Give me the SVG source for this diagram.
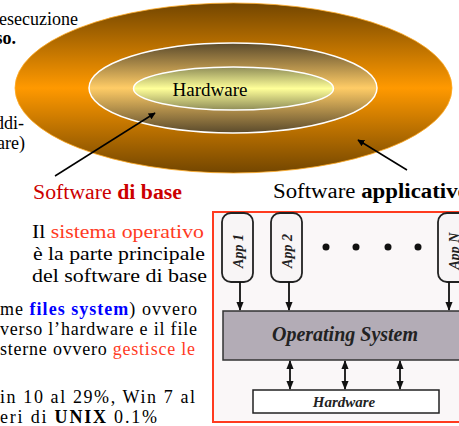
<svg xmlns="http://www.w3.org/2000/svg" width="459" height="426" viewBox="0 0 459 426" font-family="'Liberation Serif', 'Times New Roman', Times, serif">
<defs>
<linearGradient id="gOuter" x1="0" y1="0" x2="0" y2="1">
<stop offset="0" stop-color="#734600"/>
<stop offset="0.5" stop-color="#ff9900"/>
<stop offset="1" stop-color="#734600"/>
</linearGradient>
<linearGradient id="gMid" x1="0" y1="0" x2="0" y2="1">
<stop offset="0" stop-color="#5a4a2c"/>
<stop offset="0.5" stop-color="#ffcc66"/>
<stop offset="1" stop-color="#5a4a2c"/>
</linearGradient>
<linearGradient id="gIn" x1="0" y1="0" x2="0" y2="1">
<stop offset="0" stop-color="#8f8d58"/>
<stop offset="0.5" stop-color="#ffff99"/>
<stop offset="1" stop-color="#8f8d58"/>
</linearGradient>
<marker id="ah" viewBox="0 0 10 10" refX="9" refY="5" markerWidth="7" markerHeight="7" orient="auto-start-reverse" markerUnits="userSpaceOnUse">
<path d="M0,0 L10,5 L0,10 z" fill="#000"/>
</marker>
<marker id="ahs" viewBox="0 0 10 10" refX="9" refY="5" markerWidth="9" markerHeight="9" orient="auto-start-reverse" markerUnits="userSpaceOnUse">
<path d="M0,1 L10,5 L0,9 z" fill="#111"/>
</marker>
</defs>
<style>
.b{font-weight:bold;}
.red{fill:#ff3b1f;}
.dred{fill:#cc0000;}
.blue{fill:#0000ff;font-weight:bold;}
.app{fill:#f8f5f6;stroke:#222;stroke-width:1.8;}
.lbl{font-weight:bold;font-style:italic;fill:#222;}
.conn{stroke:#000;stroke-width:1.5;fill:none;}
.sconn{stroke:#111;stroke-width:1.8;fill:none;}
</style>
<rect width="459" height="426" fill="#fff"/>

<g id="text-top-left" font-family="Liberation Serif" font-size="18" fill="#000">
<text x="78" y="25" text-anchor="end">esecuzione</text>
<text x="16" y="44" text-anchor="end" class="b">so.</text>
<text x="24" y="129" text-anchor="end">ddi-</text>
<text x="25" y="149" text-anchor="end">are)</text>
</g>

<g id="ellipse-outer">
<ellipse cx="233.5" cy="88" rx="218.5" ry="85" fill="url(#gOuter)" stroke="#ffaa22" stroke-width="0.8"/>
</g>
<g id="ellipse-middle">
<ellipse cx="233" cy="88" rx="144" ry="45" fill="url(#gMid)" stroke="#fff" stroke-width="1.5"/>
</g>
<g id="ellipse-hardware" font-family="Liberation Serif">
<ellipse cx="233.5" cy="88.5" rx="100" ry="21.5" fill="url(#gIn)" stroke="#fff" stroke-width="1.5"/>
<text x="210" y="96" text-anchor="middle" font-size="19" fill="#000">Hardware</text>
</g>

<g id="label-software-base" font-family="Liberation Serif">
<text x="33" y="199" font-size="20" textLength="149" lengthAdjust="spacingAndGlyphs" class="dred">Software <tspan class="b">di base</tspan></text>
</g>
<g id="label-software-app" font-family="Liberation Serif">
<text x="273" y="198" font-size="20" textLength="196" lengthAdjust="spacingAndGlyphs">Software <tspan class="b">applicativo</tspan></text>
</g>

<g id="text-so" font-family="Liberation Serif" font-size="19">
<text x="32" y="238" textLength="172" lengthAdjust="spacingAndGlyphs">Il <tspan class="red">sistema operativo</tspan></text>
<text x="33" y="260" textLength="172" lengthAdjust="spacingAndGlyphs">è la parte principale</text>
<text x="32" y="282" textLength="175" lengthAdjust="spacingAndGlyphs">del software di base</text>
</g>

<g id="text-bottom-left" font-family="Liberation Serif" font-size="18">
<text x="0" y="315" textLength="197" lengthAdjust="spacing">me <tspan class="blue">files system</tspan>) ovvero</text>
<text x="0" y="335" textLength="197" lengthAdjust="spacing">verso l’hardware e il file</text>
<text x="0" y="355" textLength="195" lengthAdjust="spacing">sterne ovvero <tspan class="red">gestisce le</tspan></text>
<text x="0" y="403" textLength="195" lengthAdjust="spacing">in 10 al 29%, Win 7 al</text>
<text x="0" y="423" textLength="157" lengthAdjust="spacing">eri di <tspan class="b">UNIX</tspan> 0.1%</text>
</g>

<g id="os-frame">
<rect x="213" y="212" width="262" height="210" fill="#faf7f8" stroke="#ff3b1f" stroke-width="2"/>
</g>
<g id="app1" font-family="Liberation Serif">
<rect class="app" x="222" y="213" width="31" height="69" rx="9"/>
<text class="lbl" font-size="14" transform="translate(238,251) rotate(-90)" text-anchor="middle" dominant-baseline="central">App 1</text>
</g>
<g id="app2" font-family="Liberation Serif">
<rect class="app" x="271" y="213" width="31" height="69" rx="9"/>
<text class="lbl" font-size="14" transform="translate(287,251) rotate(-90)" text-anchor="middle" dominant-baseline="central">App 2</text>
</g>
<g id="dots" fill="#111">
<circle cx="326" cy="247" r="3.5"/>
<circle cx="356" cy="247" r="3.5"/>
<circle cx="388" cy="247" r="3.5"/>
<circle cx="418" cy="247" r="3.5"/>
</g>
<g id="appN" font-family="Liberation Serif">
<rect class="app" x="438" y="213" width="31" height="69" rx="9"/>
<text class="lbl" font-size="14" transform="translate(454,251) rotate(-90)" text-anchor="middle" dominant-baseline="central">App N</text>
</g>
<g id="os" font-family="Liberation Serif">
<rect x="223" y="311" width="252" height="49" fill="#b3acb6" stroke="#333" stroke-width="1.5"/>
<text class="lbl" x="345" y="341" font-size="20" text-anchor="middle">Operating System</text>
</g>
<g id="hardware-box" font-family="Liberation Serif">
<rect x="253" y="390" width="186" height="23" fill="#fff" stroke="#222" stroke-width="1.5"/>
<text class="lbl" x="344" y="407" font-size="15" text-anchor="middle">Hardware</text>
</g>

<g id="connectors">
<line class="conn" x1="55" y1="176" x2="155" y2="113" marker-end="url(#ah)"/>
<line class="conn" x1="407" y1="170" x2="358" y2="140" marker-end="url(#ah)"/>
<line class="sconn" x1="240" y1="282" x2="240" y2="310" marker-end="url(#ahs)"/>
<line class="sconn" x1="289" y1="282" x2="289" y2="310" marker-end="url(#ahs)"/>
<line class="sconn" x1="449" y1="282" x2="449" y2="310" marker-end="url(#ahs)"/>
<line class="sconn" x1="290" y1="361" x2="290" y2="389" marker-start="url(#ahs)" marker-end="url(#ahs)"/>
<line class="sconn" x1="345" y1="361" x2="345" y2="389" marker-start="url(#ahs)" marker-end="url(#ahs)"/>
<line class="sconn" x1="400" y1="361" x2="400" y2="389" marker-start="url(#ahs)" marker-end="url(#ahs)"/>
</g>
</svg>
